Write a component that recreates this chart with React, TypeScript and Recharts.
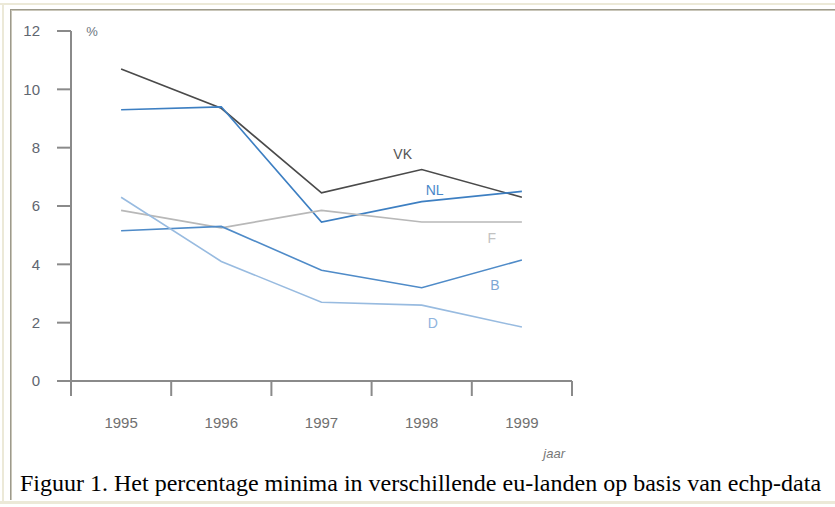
import React from "react";
import {LineChart, Line, XAxis, YAxis, LabelList} from "recharts";

const years = [1995, 1996, 1997, 1998, 1999];
const vk = [10.7, 9.35, 6.45, 7.25, 6.3];
const nl = [9.3, 9.4, 5.45, 6.15, 6.5];
const fr = [5.85, 5.25, 5.85, 5.45, 5.45];
const be = [5.15, 5.3, 3.8, 3.2, 4.15];
const de = [6.3, 4.1, 2.7, 2.6, 1.85];
const yTicks = [0, 2, 4, 6, 8, 10, 12];

// tick marks sit between the years, labels on the years
const xTicks = [...years.flatMap(y => [y - 0.5, y]), years[years.length - 1] + 0.5];

const data = years.map((year, i) => ({year, VK: vk[i], NL: nl[i], F: fr[i], B: be[i], D: de[i]}));

const series = [
    {key: "VK", color: "#4a4a4a", text: "#555555", at: 3, dx: -19, dy: -11},
    {key: "NL", color: "#3d7fc2", text: "#4a88c9", at: 3, dx: 13, dy: -7},
    {key: "F", color: "#b8b8b8", text: "#c2c2c2", at: 4, dx: -30, dy: 21},
    {key: "B", color: "#4f8bc8", text: "#7ea7d5", at: 4, dx: -27, dy: 30},
    {key: "D", color: "#98bbe0", text: "#8fb4de", at: 3, dx: 11, dy: 23},
];

const axisColor = "#8a8a8a";
const font = "'Liberation Sans', Arial, sans-serif";

const YearTick = (props: any) => {
    const {x, y, payload} = props;
    if (!Number.isInteger(payload.value)) {
        return <line x1={x} x2={x} y1={y - 15} y2={y} stroke={axisColor} strokeWidth={2}/>;
    }
    return (
        <text x={x} y={y + 32} textAnchor="middle" fontSize={15} fill="#707070" fontFamily={font}>
            {payload.value}
        </text>
    );
};

const seriesLabel = (s: typeof series[number]) => (props: any) => {
    if (props.index !== s.at) return null;
    return (
        <text x={props.x + s.dx} y={props.y + s.dy} textAnchor="middle" fontSize={14} fill={s.text} fontFamily={font}>
            {s.key}
        </text>
    );
};

const App = () => {
    return (
        <div style={{position: "absolute", left: 0, top: 0, width: 835, height: 507, background: "#fff", overflow: "hidden"}}>
            {/* frame */}
            <div style={{position: "absolute", left: 0, top: 3, width: 835, height: 2, background: "#ece9d8"}}/>
            <div style={{position: "absolute", left: 2, top: 3, width: 2, height: 500, background: "#ece9d8"}}/>
            <div style={{position: "absolute", left: 0, top: 501, width: 835, height: 3, background: "#ece9d8"}}/>
            <div style={{position: "absolute", left: 10, top: 9, width: 825, height: 1, background: "#9d9a8c"}}/>
            <div style={{position: "absolute", left: 10, top: 10, width: 825, height: 1, background: "#c9c6b9"}}/>
            <div style={{position: "absolute", left: 10, top: 9, width: 1, height: 491, background: "#9d9a8c"}}/>
            <div style={{position: "absolute", left: 11, top: 10, width: 1, height: 490, background: "#c9c6b9"}}/>

            <div style={{position: "absolute", left: 0, top: 0}}>
                <LineChart width={600} height={470} data={data} margin={{top: 31, right: 28, left: 0, bottom: 5}}>
                    <XAxis
                        dataKey="year"
                        type="number"
                        domain={[1994.5, 1999.5]}
                        ticks={xTicks}
                        interval={0}
                        tick={<YearTick/>}
                        tickLine={false}
                        tickSize={15}
                        tickMargin={0}
                        height={84}
                        axisLine={{stroke: axisColor, strokeWidth: 2}}
                        label={{value: "jaar", position: "insideBottomRight", offset: 7, fontSize: 13, fontStyle: "italic", fill: "#777", fontFamily: font}}
                    />
                    <YAxis
                        domain={[0, 12]}
                        ticks={yTicks}
                        interval={0}
                        width={71}
                        tickSize={14}
                        tickMargin={17}
                        axisLine={{stroke: axisColor, strokeWidth: 2}}
                        tickLine={{stroke: axisColor, strokeWidth: 2}}
                        tick={{fontSize: 15, fill: "#5f6670", fontFamily: font}}
                        label={{
                            content: (p: any) => (
                                <text x={p.viewBox.x + p.viewBox.width + 21} y={p.viewBox.y + 5} textAnchor="middle"
                                      fontSize={13} fill="#6d7680" fontFamily={font}>%</text>
                            ),
                        }}
                    />
                    {series.map(s => (
                        <Line key={s.key} dataKey={s.key} stroke={s.color} strokeWidth={1.6} dot={false}
                              activeDot={false} isAnimationActive={false} type="linear">
                            <LabelList dataKey={s.key} content={seriesLabel(s)}/>
                        </Line>
                    ))}
                </LineChart>
            </div>

            <div style={{
                position: "absolute", left: 20, top: 471, fontFamily: "'Liberation Serif', 'Times New Roman', serif",
                fontSize: 24, lineHeight: 1, whiteSpace: "nowrap", color: "#000",
            }}>
                Figuur 1. Het percentage minima in verschillende eu-landen op basis van echp-data
            </div>
        </div>
    );
};

export default App;
